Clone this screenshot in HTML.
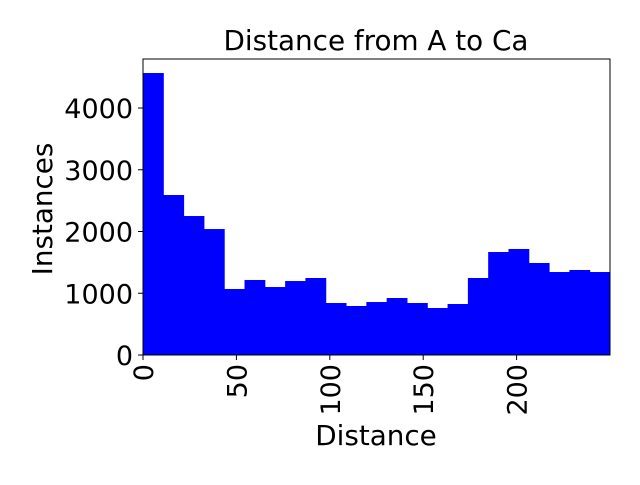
<!DOCTYPE html>
<html><head><meta charset="utf-8"><style>
body{margin:0;background:#fff;}
svg text{font-family:"DejaVu Sans","Liberation Sans",sans-serif;fill:#000;}
</style></head><body>
<svg id="chart" width="640" height="480">
<text x="376" y="50" font-size="27.8" text-anchor="middle">Distance from A to Ca</text>
<g id="bars"></g>
<g id="axes"></g>
<text x="376" y="445" font-size="27.8" text-anchor="middle">Distance</text>
<text transform="translate(52,209) rotate(-90)" font-size="27.8" text-anchor="middle">Instances</text>
</svg>
<script>
const binEdgesMax = 250;
const counts = [4567,2591,2251,2040,1069,1215,1101,1198,1247,842,794,858,923,842,761,826,1247,1668,1717,1490,1344,1377,1344];
const xTicks = [0,50,100,150,200];
const yTicks = [0,1000,2000,3000,4000];
const L=143,R=610,T=59,B=355,YMAX=4794;
const xs=v=>L+(v/binEdgesMax)*(R-L);
const ys=v=>B-(v/YMAX)*(B-T);
const NS="http://www.w3.org/2000/svg";
const bars=document.getElementById('bars'),axes=document.getElementById('axes');
const w=binEdgesMax/counts.length;
counts.forEach((c,i)=>{
 const r=document.createElementNS(NS,'rect');
 const x0=xs(i*w),x1=xs((i+1)*w);
 r.setAttribute('x',x0);r.setAttribute('width',x1-x0+0.5);
 r.setAttribute('y',ys(c));r.setAttribute('height',B-ys(c));
 r.setAttribute('fill','#0000ff');
 
 
 bars.appendChild(r);
});
const fr=document.createElementNS(NS,'rect');
fr.setAttribute('x',L);fr.setAttribute('y',T);fr.setAttribute('width',R-L);fr.setAttribute('height',B-T);
fr.setAttribute('fill','none');fr.setAttribute('stroke','#000');


axes.appendChild(fr);
yTicks.forEach(v=>{
 const y=ys(v);
 const l=document.createElementNS(NS,'line');
 l.setAttribute('x1',L-5);l.setAttribute('x2',L);l.setAttribute('y1',y);l.setAttribute('y2',y);l.setAttribute('stroke','#000');
 
 
 axes.appendChild(l);
 const t=document.createElementNS(NS,'text');
 t.setAttribute('x',L-10);t.setAttribute('y',y+10);t.setAttribute('font-size','27');t.setAttribute('text-anchor','end');
 t.textContent=v;
 
 
 axes.appendChild(t);
});
xTicks.forEach(v=>{
 const x=xs(v);
 const l=document.createElementNS(NS,'line');
 l.setAttribute('x1',x);l.setAttribute('x2',x);l.setAttribute('y1',B);l.setAttribute('y2',B+5);l.setAttribute('stroke','#000');
 
 
 axes.appendChild(l);
 const t=document.createElementNS(NS,'text');
 t.setAttribute('transform','translate('+(x+10)+','+(B+9)+') rotate(-90)');
 t.setAttribute('font-size','27');t.setAttribute('text-anchor','end');
 t.textContent=v;
 
 
 axes.appendChild(t);
});
</script>
</body></html>
